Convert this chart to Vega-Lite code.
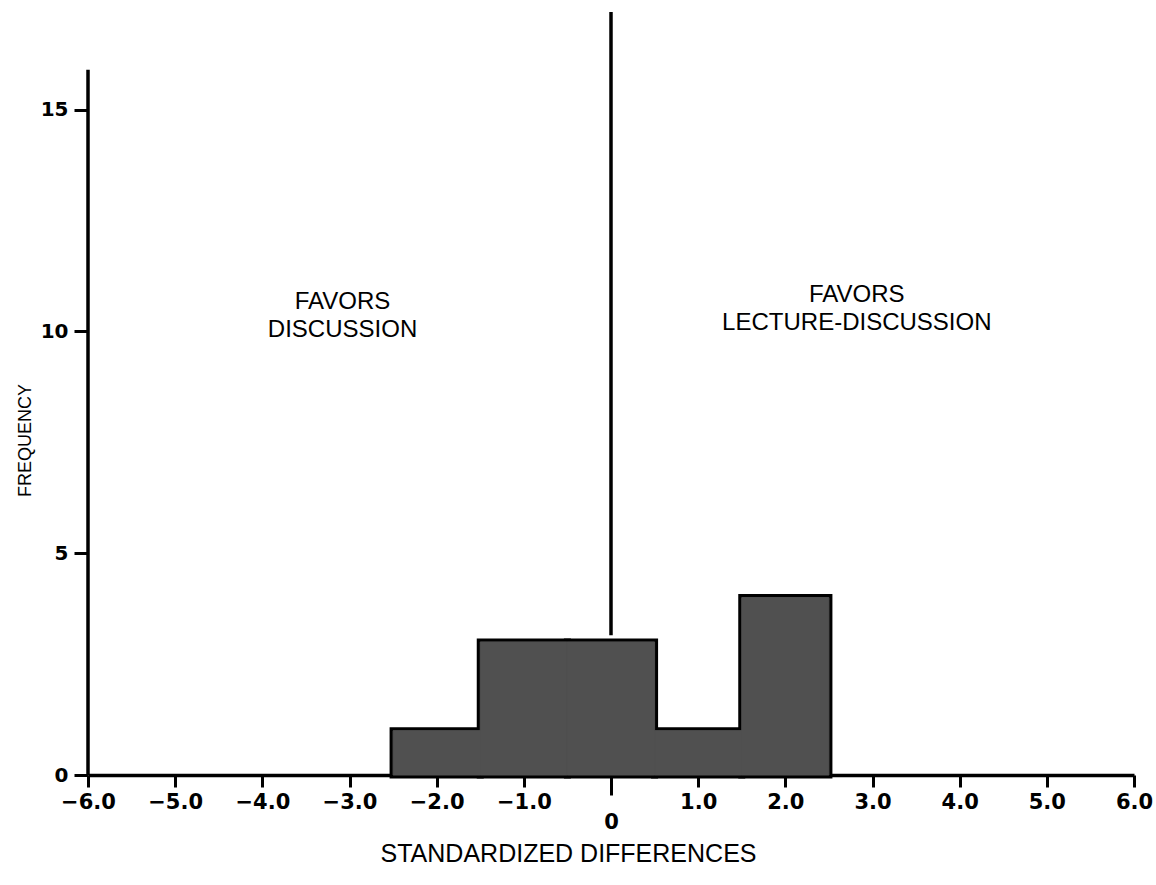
{
  "$schema": "https://vega.github.io/schema/vega-lite/v6.json",
  "width": 1046,
  "height": 763,
  "autosize": {"type": "none"},
  "padding": {"left": 88, "top": 12, "right": 22, "bottom": 110},
  "background": "white",
  "config": {"view": {"stroke": null}, "font": "Liberation Sans"},
  "datasets": {
    "bins": [
      {"bin_start": -2.5, "bin_end": -1.5, "count": 1},
      {"bin_start": -1.5, "bin_end": -0.5, "count": 3},
      {"bin_start": -0.5, "bin_end": 0.5, "count": 3},
      {"bin_start": 0.5, "bin_end": 1.5, "count": 1},
      {"bin_start": 1.5, "bin_end": 2.5, "count": 4}
    ],
    "labels": [
      {"x": -3.08, "y": 10.67, "label": "FAVORS\nDISCUSSION"},
      {"x": 2.82, "y": 10.83, "label": "FAVORS\nLECTURE-DISCUSSION"}
    ],
    "rules": [
      {"x": 0, "y": 3.15, "y2": 17.2},
      {"x": -6, "y": 0, "y2": 15.9}
    ]
  },
  "layer": [
    {
      "data": {"name": "bins"},
      "mark": {"type": "rect", "fill": "black", "stroke": "black", "strokeWidth": 7},
      "encoding": {
        "x": {
          "field": "bin_start",
          "type": "quantitative",
          "scale": {"domain": [-6, 6], "nice": false, "zero": false},
          "axis": {
            "values": [-6, -5, -4, -3, -2, -1, 0, 1, 2, 3, 4, 5, 6],
            "labelExpr": "datum.value == 0 ? '0' : format(datum.value, '.1f')",
            "labelFont": "DejaVu Sans",
            "labelFontWeight": "bold",
            "labelFontSize": 21,
            "labelColor": "black",
            "labelFlush": false,
            "labelOverlap": false,
            "labelPadding": {"condition": {"test": "datum.value == 0", "value": 16}, "value": 4},
            "tickSize": {"condition": {"test": "datum.value == 0", "value": 20}, "value": 12},
            "tickWidth": 3,
            "tickColor": "black",
            "domainColor": "black",
            "domainWidth": 3.5,
            "grid": false,
            "title": "STANDARDIZED DIFFERENCES",
            "titleFont": "Liberation Sans",
            "titleFontSize": 25,
            "titleFontWeight": "normal",
            "titleColor": "black",
            "titleX": 480,
            "titleY": 86,
            "titleAlign": "center",
            "titleBaseline": "alphabetic"
          }
        },
        "x2": {"field": "bin_end"},
        "y": {
          "field": "count",
          "type": "quantitative",
          "scale": {"domain": [0, 17.2], "nice": false},
          "axis": {
            "values": [0, 5, 10, 15],
            "format": "d",
            "labelFont": "DejaVu Sans",
            "labelFontWeight": "bold",
            "labelFontSize": 20,
            "labelColor": "black",
            "labelPadding": 6,
            "tickSize": 14,
            "tickWidth": 3,
            "tickColor": "black",
            "domain": false,
            "grid": false,
            "title": "FREQUENCY",
            "titleFont": "Liberation Sans",
            "titleFontSize": 18,
            "titleFontWeight": "normal",
            "titleColor": "black",
            "titleX": -63,
            "titleY": 428,
            "titleAngle": -90,
            "titleAlign": "center",
            "titleBaseline": "middle"
          }
        },
        "y2": {"datum": 0}
      }
    },
    {
      "data": {"name": "bins"},
      "mark": {"type": "rect", "fill": "#505050", "stroke": "#505050", "strokeWidth": 1},
      "encoding": {
        "x": {"field": "bin_start", "type": "quantitative"},
        "x2": {"field": "bin_end"},
        "y": {"field": "count", "type": "quantitative"},
        "y2": {"datum": 0}
      }
    },
    {
      "data": {"name": "rules"},
      "mark": {"type": "rule", "color": "black", "strokeWidth": 3.5},
      "encoding": {
        "x": {"field": "x", "type": "quantitative"},
        "y": {"field": "y", "type": "quantitative"},
        "y2": {"field": "y2"}
      }
    },
    {
      "data": {"name": "labels"},
      "mark": {"type": "text", "lineBreak": "\n", "fontSize": 24, "font": "Liberation Sans", "align": "center", "baseline": "middle", "lineHeight": 28, "color": "black"},
      "encoding": {
        "x": {"field": "x", "type": "quantitative"},
        "y": {"field": "y", "type": "quantitative"},
        "text": {"field": "label"}
      }
    }
  ]
}
